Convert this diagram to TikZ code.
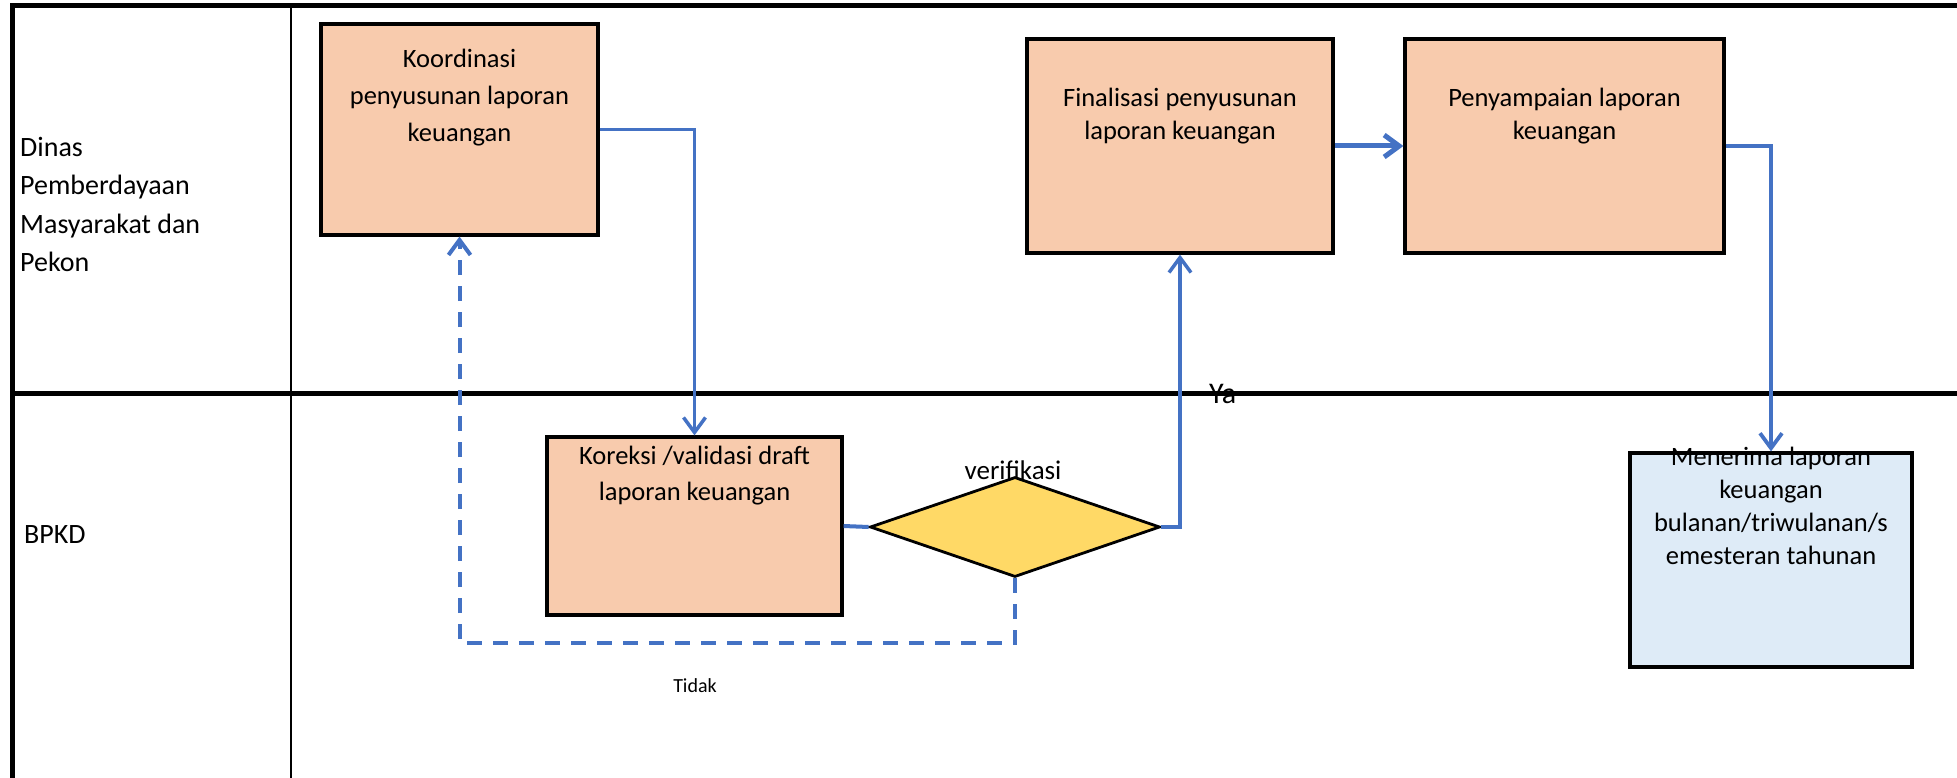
\documentclass[tikz,border=0pt]{standalone}
\usepackage{fontspec}
\setmainfont{Carlito}
\usetikzlibrary{arrows.meta,shapes.geometric}
\definecolor{boxorange}{HTML}{F8CBAD}
\definecolor{boxblue}{HTML}{DEEBF7}
\definecolor{diayellow}{HTML}{FFD966}
\definecolor{flowblue}{HTML}{4472C4}
\begin{document}
\begin{tikzpicture}[x=1pt,y=-1pt,
  laneline/.style={draw=black,line width=5pt},
  colline/.style={draw=black,line width=2.5pt},
  proc/.style={draw=black,line width=3.2pt,fill=boxorange,rectangle,inner sep=0pt},
  recv/.style={draw=black,line width=3.2pt,fill=boxblue,rectangle,inner sep=0pt},
  decision/.style={draw=black,line width=2.8pt,fill=diayellow,diamond,inner sep=0pt},
  boxtxt/.style={inner sep=0pt,align=center,font=\fontsize{26.5}{37}\selectfont},
  lanetxt/.style={inner sep=0pt,align=left,font=\fontsize{28}{38.5}\selectfont},
  flow/.style={draw=flowblue,line width=3.5pt,-{Straight Barb[length=15pt,width=22pt]}},
  flowplain/.style={draw=flowblue,line width=4pt},
  flowdash/.style={draw=flowblue,line width=4pt,dash pattern=on 15pt off 11pt,-{Straight Barb[length=15pt,width=22pt]}}
]
\useasboundingbox (0,0) rectangle (1957,778);
% swimlane frame
\draw[laneline] (12,6) -- (1957,6);
\draw[laneline] (12,393) -- (1957,393);
\draw[laneline] (12,3.5) -- (12,778);
\draw[colline] (291,6) -- (291,778);
% lane labels
\node[lanetxt,anchor=north west] (lane1) at (20,137) {Dinas\\Pemberdayaan\\Masyarakat dan\\Pekon};
\node[lanetxt,anchor=base west] (lane2) at (24,543) {BPKD};
% boxes
\node[proc,minimum width=277pt,minimum height=211pt] (koord) at (459.5,129.5) {};
\node[boxtxt,anchor=north] (koordt) at (459.5,49) {Koordinasi\\penyusunan laporan\\keuangan};
\node[proc,minimum width=306pt,minimum height=214pt] (final) at (1180,146) {};
\node[boxtxt,anchor=north,font=\fontsize{26.5}{32.5}\selectfont] (finalt) at (1180,88) {Finalisasi penyusunan\\laporan keuangan};
\node[proc,minimum width=319pt,minimum height=214pt] (penyamp) at (1564.5,146) {};
\node[boxtxt,anchor=north,font=\fontsize{26.5}{32.5}\selectfont] (penyampt) at (1564.5,88) {Penyampaian laporan\\keuangan};
\node[proc,minimum width=295pt,minimum height=178pt] (koreksi) at (694.5,526) {};
\node[boxtxt,anchor=north,font=\fontsize{26.5}{36}\selectfont] (koreksit) at (694.5,446) {Koreksi /validasi draft\\laporan keuangan};
\node[decision,minimum width=290pt,minimum height=100pt] (verif) at (1015,527) {};
\node[recv,minimum width=282pt,minimum height=214pt] (menerima) at (1771,560) {};
% connectors
\coordinate (tcorner) at (1015,643);
\draw[flow] (koord.east) -| (koreksi.north);
\draw[flowplain] (koreksi.east) -- (verif.west);
\draw[flow] (verif.east) -| (final.south);
\draw[flow,line width=5pt] (final.east) -- (penyamp.west);
\draw[flow,line width=3.8pt] (penyamp.east) -| (menerima.north);
\draw[flowdash] (verif.south) -- (tcorner) -| (koord.south);
% texts over shapes
\node[boxtxt,anchor=north,font=\fontsize{26.5}{33}\selectfont] (menerimat) at (1771,447) {Menerima laporan\\keuangan\\bulanan/triwulanan/s\\emesteran tahunan};
\node[inner sep=0pt,anchor=base,font=\fontsize{27}{32}\selectfont] (veriflbl) at (1013,479) {verifikasi};
\node[inner sep=0pt,anchor=base west,font=\fontsize{30}{36}\selectfont] (yalbl) at (1209,403) {Ya};
\node[inner sep=0pt,anchor=base,font=\fontsize{20}{24}\selectfont] (tidaklbl) at (695,692) {Tidak};
\end{tikzpicture}
\end{document}
